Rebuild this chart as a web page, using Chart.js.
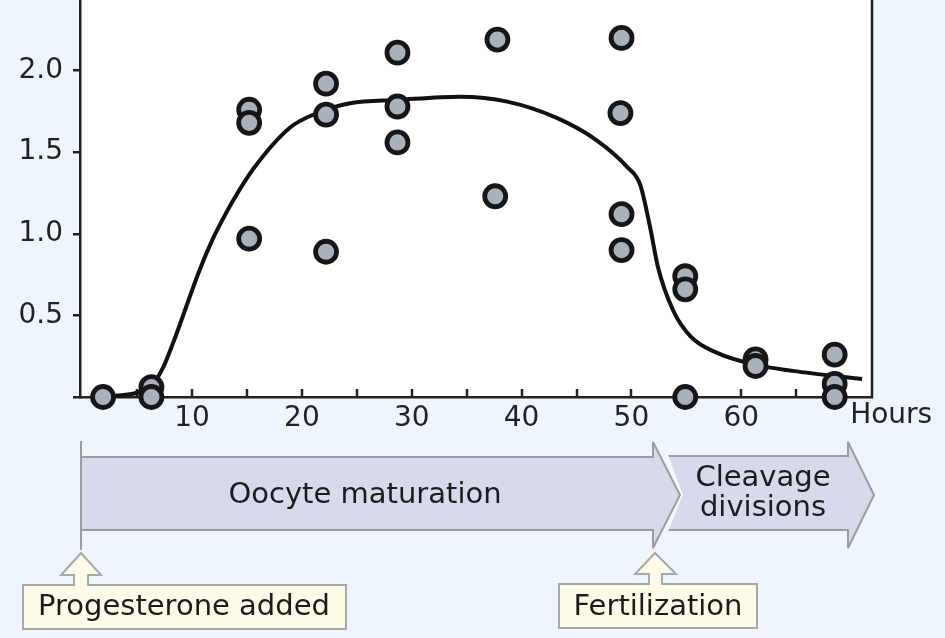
<!DOCTYPE html>
<html>
<head>
<meta charset="utf-8">
<script src="https://cdn.jsdelivr.net/npm/chart.js@4"></script>
<style>
  html, body { margin: 0; padding: 0; }
  body { width: 945px; height: 638px; background: #eef5fc; overflow: hidden; position: relative; font-family: "DejaVu Sans", Verdana, sans-serif; }
  #wrap { position: absolute; left: 0; top: -40px; width: 945px; height: 480px; }
  #timeline { position: absolute; left: 0; top: 0; }
</style>
</head>
<body>
<div id="wrap"><canvas id="chart" width="945" height="480"></canvas></div>

<svg id="timeline" width="945" height="638" xmlns="http://www.w3.org/2000/svg">
  <g font-family="DejaVu Sans, Verdana, sans-serif" font-size="29" fill="#1c1c1c">
    <!-- cleavage arrow, notched on the left -->
    <polygon points="667,456 848,456 848,442 874,495 848,548 848,530 667,530 682,495"
             fill="#d9d9ee" stroke="#9c9c9c" stroke-width="2"/>
    <polyline points="666,455 681,495 666,531" fill="none" stroke="#f7fafd" stroke-width="4"/>
    <!-- oocyte maturation arrow -->
    <polygon points="81,457 653,457 653,442 680,495 653,548 653,530 81,530"
             fill="#d9d9ee" stroke="#9c9c9c" stroke-width="2"/>
    <line x1="81" y1="441" x2="81" y2="550" stroke="#9c9c9c" stroke-width="2"/>
    <text x="365" y="503" text-anchor="middle">Oocyte maturation</text>
    <text x="763" y="486" text-anchor="middle">Cleavage</text>
    <text x="763" y="516" text-anchor="middle">divisions</text>

    <!-- callouts -->
    <path d="M23,585 L74,585 L74,575 L61,575 L81,553 L101,575 L88,575 L88,585 L346,585 L346,629 L23,629 Z"
          fill="#fdfbe7" stroke="#a8a8a8" stroke-width="2"/>
    <text x="184" y="615" text-anchor="middle">Progesterone added</text>
    <path d="M559,584 L649,584 L649,574 L635,574 L655,553 L676,574 L662,574 L662,584 L757,584 L757,628 L559,628 Z"
          fill="#fdfbe7" stroke="#a8a8a8" stroke-width="2"/>
    <text x="658" y="615" text-anchor="middle">Fertilization</text>
  </g>
</svg>

<script>
// measured points (hours, relative value)
const pointHours = [1.9, 6.3, 6.3, 15.2, 15.2, 15.2, 22.2, 22.2, 22.2, 28.7, 28.7, 28.7,
  37.8, 37.6, 49.1, 49.0, 49.1, 49.1, 54.9, 54.9, 54.9, 61.3, 61.3, 68.5, 68.5, 68.5];
const pointValues = [0, 0.06, 0, 1.76, 1.68, 0.97, 1.92, 1.73, 0.89, 2.11, 1.78, 1.56,
  2.19, 1.23, 2.20, 1.74, 1.12, 0.90, 0.74, 0.66, 0, 0.23, 0.19, 0.26, 0.08, 0];

// fitted curve
const curveHours = [1.9, 6.2, 7.36, 8.27, 10.7, 11.9, 12.8, 13.7, 15.6, 18.9, 21.4, 24.4, 28.7, 34.4,
  38.7, 43.2, 46.9, 49.6, 50.8, 51.7, 52.4, 53.8, 55.4, 57.8, 61.1, 64.7, 71.0];
const curveValues = [0, 0.06, 0.18, 0.33, 0.78, 0.97, 1.09, 1.20, 1.40, 1.65, 1.74, 1.80, 1.82, 1.84,
  1.81, 1.71, 1.57, 1.41, 1.30, 1.04, 0.80, 0.53, 0.37, 0.27, 0.20, 0.16, 0.11];

const xTickValues = [5, 10, 15, 20, 25, 30, 35, 40, 45, 50, 55, 60, 65];
const xTickLabels = [10, 20, 30, 40, 50, 60];
const axisTitle = 'Hours';

const ink = '#222222';
const font = { family: '"DejaVu Sans", Verdana, sans-serif', size: 28 };

const plotDecor = {
  id: 'plotDecor',
  beforeDraw(chart) {
    const { ctx, chartArea: a } = chart;
    ctx.save();
    ctx.fillStyle = '#ffffff';
    ctx.fillRect(a.left, a.top, a.right - a.left, a.bottom - a.top);
    ctx.restore();
  },
  beforeDatasetsDraw(chart) {
    const { ctx, chartArea: a } = chart;
    const x = chart.scales.x;
    ctx.save();
    ctx.strokeStyle = ink;
    ctx.lineWidth = 2.5;
    // ticks point up into the plot
    x.ticks.forEach(t => {
      const px = Math.round(x.getPixelForValue(t.value));
      ctx.beginPath();
      ctx.moveTo(px, a.bottom);
      ctx.lineTo(px, a.bottom - 8);
      ctx.stroke();
    });
    // right frame
    ctx.beginPath();
    ctx.moveTo(a.right, a.top);
    ctx.lineTo(a.right, a.bottom + 1);
    ctx.stroke();
    ctx.restore();
  },
  afterDraw(chart) {
    const { ctx, chartArea: a } = chart;
    const x = chart.scales.x;
    ctx.save();
    ctx.fillStyle = ink;
    ctx.font = '28px "DejaVu Sans", Verdana, sans-serif';
    ctx.textAlign = 'left';
    ctx.textBaseline = 'middle';
    ctx.fillText(axisTitle, x.getPixelForValue(70) - 1, a.bottom + 19);
    ctx.restore();
  }
};

new Chart(document.getElementById('chart'), {
  type: 'scatter',
  data: {
    datasets: [
      {
        data: pointHours.map((h, i) => ({ x: h, y: pointValues[i] })),
        pointRadius: 10.5,
        pointHoverRadius: 10.5,
        pointBackgroundColor: '#a9b1bc',
        pointBorderColor: '#161616',
        pointBorderWidth: 4.8,
        clip: false,
        order: 1
      },
      {
        data: curveHours.map((h, i) => ({ x: h, y: curveValues[i] })),
        showLine: true,
        borderColor: '#111111',
        borderWidth: 4,
        pointRadius: 0,
        cubicInterpolationMode: 'monotone',
        clip: false,
        order: 2
      }
    ]
  },
  options: {
    responsive: false,
    animation: false,
    devicePixelRatio: 1,
    layout: { padding: { top: 29, right: 73, left: 0, bottom: 0 } },
    plugins: { legend: { display: false }, tooltip: { enabled: false } },
    scales: {
      x: {
        type: 'linear',
        min: -0.2,
        max: 71.9,
        afterBuildTicks: s => { s.ticks = xTickValues.map(v => ({ value: v })); },
        afterFit: s => { s.height = 43; },
        grid: { display: true, drawOnChartArea: false, drawTicks: false },
        border: { display: true, color: ink, width: 2.5 },
        ticks: {
          color: ink,
          font: font,
          padding: 5,
          maxRotation: 0,
          autoSkip: false,
          callback: v => (xTickLabels.includes(v) ? String(v) : '')
        }
      },
      y: {
        min: 0,
        max: 2.5,
        afterFit: s => { s.width = 80; },
        grid: { drawOnChartArea: false, drawTicks: true, tickLength: 7, color: ink, lineWidth: 2.5 },
        border: { display: true, color: ink, width: 2.5 },
        ticks: {
          stepSize: 0.5,
          color: ink,
          font: font,
          padding: 10,
          callback: v => (v === 0 ? '' : v.toFixed(1))
        }
      }
    }
  },
  plugins: [plotDecor]
});
</script>
</body>
</html>
